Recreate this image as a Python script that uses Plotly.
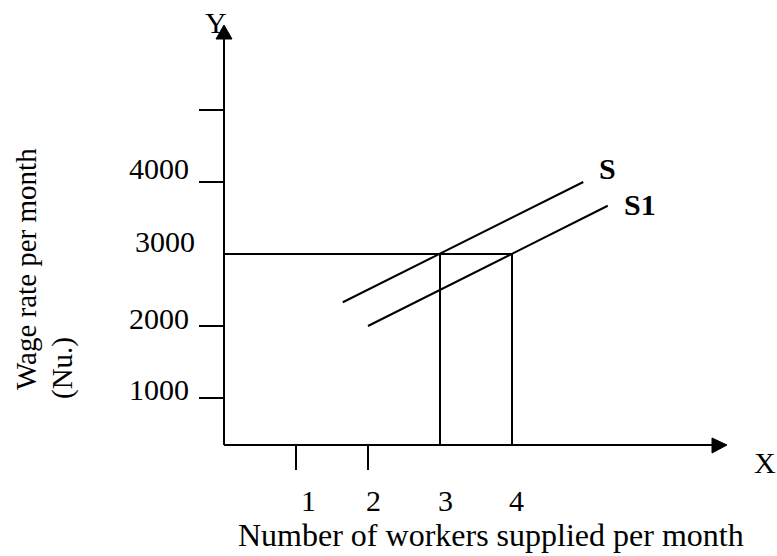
import plotly.graph_objects as go

# ---------------- data ----------------
wage_label_values = [1000, 2000, 3000, 4000]
wage_label_text = ["1000", "2000", "3000", "4000"]
wage_tick_values = [1000, 2000, 4000, 5000]
worker_label_values = [1, 2, 3, 4]
worker_label_text = ["1", "2", "3", "4"]
worker_tick_values = [1, 2]

s_x = [1.65, 4.99]
s_y = [2330, 4000]
s1_x = [2.0, 5.33]
s1_y = [2000, 3670]

eq_wage = 3000
eq_workers = [3, 4]

# ---------------- scale (pixels per unit) ----------------
W, H = 777, 556
ORIG_PX, ORIG_PY = 224, 470          # pixel of x=0 / y=0
PX_X, PX_Y = 72.0, 0.072             # pixels per unit


def X(px):
    return (px - ORIG_PX) / PX_X


def Y(py):
    return (ORIG_PY - py) / PX_Y


FONT = "Liberation Serif, Times New Roman, serif"
LW = 2
y_base = Y(445)  # where the horizontal axis is drawn

fig = go.Figure()

# supply curves
fig.add_trace(go.Scatter(x=s_x, y=s_y, mode="lines",
                         line=dict(color="black", width=LW), hoverinfo="skip"))
fig.add_trace(go.Scatter(x=s1_x, y=s1_y, mode="lines",
                         line=dict(color="black", width=LW), hoverinfo="skip"))

# equilibrium wage line and worker verticals
fig.add_trace(go.Scatter(x=[0, max(eq_workers)], y=[eq_wage, eq_wage], mode="lines",
                         line=dict(color="black", width=LW), hoverinfo="skip"))
for q in eq_workers:
    fig.add_trace(go.Scatter(x=[q, q], y=[y_base, eq_wage], mode="lines",
                             line=dict(color="black", width=LW), hoverinfo="skip"))

shapes = []
# axes
shapes.append(dict(type="line", x0=0, x1=0, y0=y_base, y1=Y(39),
                   line=dict(color="black", width=LW)))
shapes.append(dict(type="line", x0=0, x1=X(713), y0=y_base, y1=y_base,
                   line=dict(color="black", width=LW)))
# arrowheads
shapes.append(dict(type="path",
                   path=f"M {X(216)},{Y(39)} L {X(232)},{Y(39)} L {X(224)},{Y(25)} Z",
                   fillcolor="black", line=dict(color="black", width=1)))
shapes.append(dict(type="path",
                   path=f"M {X(712)},{Y(438)} L {X(712)},{Y(453)} L {X(727)},{Y(445)} Z",
                   fillcolor="black", line=dict(color="black", width=1)))
# y ticks
for v in wage_tick_values:
    shapes.append(dict(type="line", x0=X(199), x1=0, y0=v, y1=v,
                       line=dict(color="black", width=LW)))
# x ticks
for v in worker_tick_values:
    shapes.append(dict(type="line", x0=v, x1=v, y0=y_base, y1=Y(470),
                       line=dict(color="black", width=LW)))

ann = []
ylab_dx = [0, 0, 6, 0]
ylab_dy = [9, 8, 13, 14]
for v, t, dx, dy in zip(wage_label_values, wage_label_text, ylab_dx, ylab_dy):
    ann.append(dict(x=X(191), y=v, text=t, xanchor="right", yanchor="middle",
                    xshift=dx, yshift=dy, showarrow=False,
                    font=dict(family=FONT, size=30, color="black")))
xlab_dx = [12, 5, 5, 4]
for v, t, dx in zip(worker_label_values, worker_label_text, xlab_dx):
    ann.append(dict(x=v, y=Y(500), text=t, xanchor="center", yanchor="middle",
                    xshift=dx, showarrow=False,
                    font=dict(family=FONT, size=30, color="black")))

ann.append(dict(x=X(491), y=Y(535), text="Number of workers supplied per month",
                xanchor="center", yanchor="middle", showarrow=False,
                font=dict(family=FONT, size=32, color="black")))
ann.append(dict(x=X(26), y=Y(269), text="Wage rate per month", textangle=-90,
                xanchor="center", yanchor="middle", showarrow=False,
                font=dict(family=FONT, size=29, color="black")))
ann.append(dict(x=X(62), y=Y(368), text="(Nu.)", textangle=-90,
                xanchor="center", yanchor="middle", showarrow=False,
                font=dict(family=FONT, size=29, color="black")))
ann.append(dict(x=X(765), y=Y(462), text="X", xanchor="center", yanchor="middle",
                showarrow=False, font=dict(family=FONT, size=30, color="black")))
ann.append(dict(x=X(216), y=Y(22), text="Y", xanchor="center", yanchor="middle",
                showarrow=False, font=dict(family=FONT, size=30, color="black")))
ann.append(dict(x=X(607), y=Y(168), text="<b>S</b>", xanchor="center", yanchor="middle",
                showarrow=False, font=dict(family=FONT, size=30, color="black")))
ann.append(dict(x=X(640), y=Y(204), text="<b>S1</b>", xanchor="center", yanchor="middle",
                showarrow=False, font=dict(family=FONT, size=30, color="black")))

fig.update_layout(
    width=W, height=H,
    margin=dict(l=0, r=0, t=0, b=0),
    paper_bgcolor="white", plot_bgcolor="white",
    showlegend=False,
    xaxis=dict(range=[X(0), X(W)], visible=False, fixedrange=True),
    yaxis=dict(range=[Y(H), Y(0)], visible=False, fixedrange=True),
    shapes=shapes,
    annotations=ann,
)

fig.write_html("out.html", config={"displayModeBar": False},
               post_script="document.body.style.margin='0';document.body.style.overflow='hidden';")
